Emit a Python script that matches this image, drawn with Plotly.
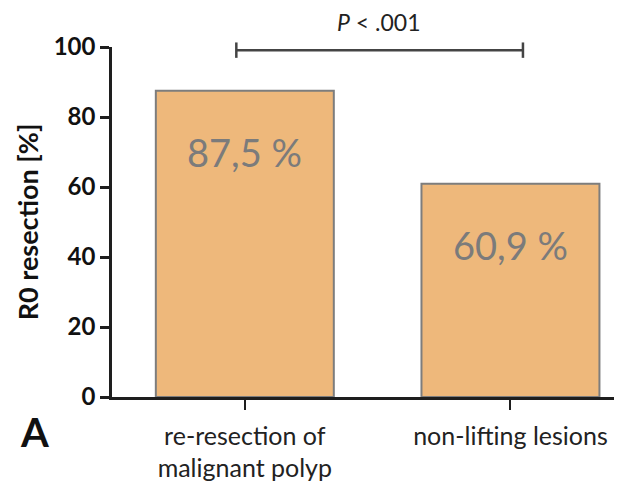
import plotly.graph_objects as go

categories = ["re-resection of<br>malignant polyp", "non-lifting lesions"]
values = [87.5, 60.9]
value_labels = ["87,5 %", "60,9 %"]
y_ticks = [0, 20, 40, 60, 80, 100]
p_label = "<i>P</i> < .001"
y_title = "R0 resection [%]"
panel_label = "A"

FONT = "Lato"
AX = "#1e1e1e"

fig = go.Figure()
fig.add_trace(go.Bar(
    x=[0, 1], y=values, width=0.67,
    marker=dict(color="#EEB87B", line=dict(color="#7d7d7d", width=2)),
    hoverinfo="skip",
))

annotations = []
for i, (v, lab) in enumerate(zip(values, value_labels)):
    annotations.append(dict(x=i, y=v - 17.5, xref="x", yref="y", text=lab,
                            xanchor="center", yanchor="middle",
                            showarrow=False, font=dict(family=FONT, size=38, color="#7b7b7b")))
annotations.append(dict(x=0.506, y=1.071, xref="x", yref="paper", text=p_label,
                        xanchor="center", yanchor="middle",
                        showarrow=False, font=dict(family=FONT, size=23, color="#222")))
annotations.append(dict(x=-0.149, y=-0.10, xref="paper", yref="paper", text="<b>%s</b>" % panel_label,
                        xanchor="center", yanchor="middle",
                        showarrow=False, font=dict(family=FONT, size=40, color="#111")))

shapes = [
    dict(type="line", xref="x", yref="paper", x0=-0.032, x1=1.047, y0=0.991, y1=0.991,
         line=dict(color="#444", width=2.5)),
    dict(type="line", xref="x", yref="paper", x0=-0.032, x1=-0.032, y0=0.969, y1=1.013,
         line=dict(color="#444", width=2.5)),
    dict(type="line", xref="x", yref="paper", x0=1.047, x1=1.047, y0=0.969, y1=1.013,
         line=dict(color="#444", width=2.5)),
]

fig.update_layout(
    width=622, height=483,
    margin=dict(l=104, r=0, t=39, b=94),
    paper_bgcolor="white", plot_bgcolor="white",
    showlegend=False,
    annotations=annotations, shapes=shapes,
    xaxis=dict(range=[-0.5, 1.45], tickmode="array", tickvals=[0, 1], ticktext=categories,
               showline=True, linecolor=AX, linewidth=2.5, ticks="outside", ticklen=10,
               tickwidth=2, tickcolor=AX, showgrid=False, zeroline=False,
               ticklabelstandoff=5,
               tickfont=dict(family=FONT, size=25, color="#222")),
    yaxis=dict(range=[0, 100], tickvals=y_ticks, showline=True, linecolor=AX, linewidth=2.5,
               ticks="outside", ticklen=9, tickwidth=2.5, tickcolor=AX, showgrid=False,
               zeroline=False, tickfont=dict(family=FONT, size=24, color="#111", weight="bold"),
               title=dict(text=y_title, font=dict(family=FONT, size=27, color="#111", weight="bold"),
                          standoff=8)),
)

fig.write_html("out.html")
